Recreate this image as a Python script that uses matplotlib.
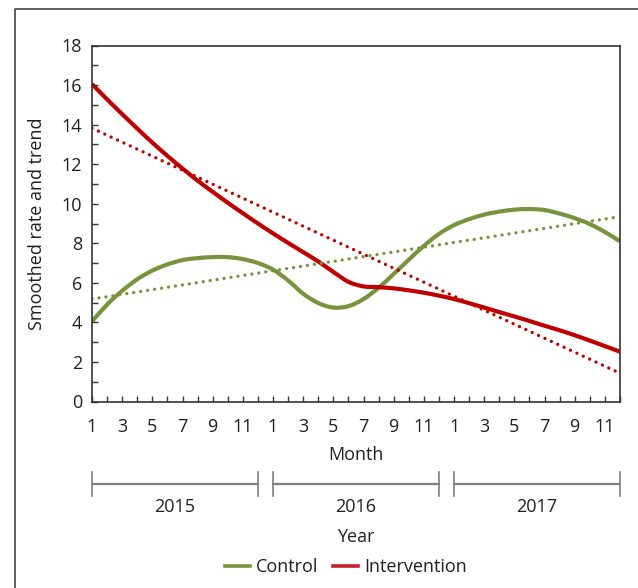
import matplotlib
matplotlib.use("Agg")
import matplotlib.pyplot as plt
from matplotlib.lines import Line2D
from matplotlib.path import Path
from matplotlib.patches import PathPatch
from matplotlib.transforms import blended_transform_factory

# ---------------- data ----------------
years = ["2015", "2016", "2017"]
months = list(range(1, 13)) * 3
control = [4.05, 4.9, 5.6, 6.18, 6.62, 6.93, 7.15, 7.25, 7.3, 7.3, 7.2, 7.0,
           6.67, 6.12, 5.45, 4.98, 4.75, 4.82, 5.18, 5.75, 6.45, 7.17, 7.87, 8.47,
           8.92, 9.22, 9.45, 9.6, 9.7, 9.73, 9.68, 9.5, 9.27, 8.97, 8.57, 8.1]
intervention = [16.05, 15.28, 14.53, 13.8, 13.09, 12.42, 11.78, 11.17, 10.6, 10.05, 9.52, 9.0,
                8.5, 8.02, 7.55, 7.08, 6.55, 6.05, 5.82, 5.78, 5.72, 5.62, 5.5, 5.35,
                5.18, 4.97, 4.75, 4.52, 4.3, 4.07, 3.83, 3.6, 3.35, 3.08, 2.8, 2.52]
control_trend = [5.18, 9.35]        # linear trend at first and last month
intervention_trend = [13.82, 1.43]
y_ticks = [0, 2, 4, 6, 8, 10, 12, 14, 16, 18]
series_names = ["Control", "Intervention"]

GREEN = "#77933C"
RED = "#C00000"
TEXT = "#231F20"
FS = 13

plt.rcParams['font.family'] = ['Open Sans', 'DejaVu Sans']

W, H = 638, 588
fig = plt.figure(figsize=(W / 100, H / 100), dpi=100)
ax = fig.add_axes([92 / W, 1 - 401.5 / H, (620 - 92) / W, (401.5 - 45.5) / H])

x = list(range(len(months)))
xe = [x[0], x[-1]]


def smooth_path(xs, ys):
    """Smoothed line (as in spreadsheet charts) drawn as cubic Bezier segments
    through the data points."""
    n = len(xs)
    verts = [(xs[0], ys[0])]
    codes = [Path.MOVETO]
    for i in range(n - 1):
        i0 = max(i - 1, 0)
        i3 = min(i + 2, n - 1)
        c1 = (xs[i] + (xs[i + 1] - xs[i0]) / 6.0, ys[i] + (ys[i + 1] - ys[i0]) / 6.0)
        c2 = (xs[i + 1] - (xs[i3] - xs[i]) / 6.0, ys[i + 1] - (ys[i3] - ys[i]) / 6.0)
        verts += [c1, c2, (xs[i + 1], ys[i + 1])]
        codes += [Path.CURVE4] * 3
    return Path(verts, codes)


dot = (0, (0.01, 2.1))
ax.plot(xe, control_trend, color=GREEN, lw=2.4, linestyle=dot, dash_capstyle='round')
ax.plot(xe, intervention_trend, color=RED, lw=2.4, linestyle=dot, dash_capstyle='round')
for ys, col in ((control, GREEN), (intervention, RED)):
    ax.add_patch(PathPatch(smooth_path(x, ys), fill=False, edgecolor=col, lw=3.0,
                           capstyle='butt', joinstyle='round'))

ax.set_xlim(x[0], x[-1])
ax.set_ylim(0, 18)

# y ticks
ax.set_yticks(y_ticks)
ax.set_yticklabels([str(v) for v in y_ticks])
ax.set_yticks(list(range(1, 18, 2)), minor=True)
ax.tick_params(axis='y', which='both', direction='in', length=4, width=1, color='#333333')
ax.tick_params(axis='y', which='major', pad=7, labelsize=FS, labelcolor=TEXT)

# x ticks
ax.set_xticks(x)
ax.set_xticklabels([str(m) if m % 2 == 1 else "" for m in months])
ax.tick_params(axis='x', which='major', direction='in', length=4, width=1, color='#333333',
               pad=12, labelsize=FS, labelcolor=TEXT)

for s in ax.spines.values():
    s.set_color('#333333')
    s.set_linewidth(1.2)

ax.set_ylabel("Smoothed rate and trend", fontsize=FS, color=TEXT, labelpad=11)

# Month label
fig.text(0.5 * (92 + 620) / W, 1 - 455 / H, "Month", ha='center', va='center',
         fontsize=FS, color=TEXT)

# Year brackets
tr = blended_transform_factory(ax.transData, fig.transFigure)
yb = 1 - 484 / H
yt0, yt1 = 1 - 472 / H, 1 - 496 / H
for i, yr in enumerate(years):
    a, b = x[i * 12], x[i * 12 + 11]
    ax.plot([a, b], [yb, yb], color='#808080', lw=1.6, transform=tr, clip_on=False)
    ax.plot([a, a], [yt0, yt1], color='#808080', lw=1.2, transform=tr, clip_on=False)
    ax.plot([b, b], [yt0, yt1], color='#808080', lw=1.2, transform=tr, clip_on=False)
    ax.text((a + b) / 2, 1 - 507 / H, yr, transform=tr, ha='center', va='center',
            fontsize=FS, color=TEXT)

fig.text(0.5 * (92 + 620) / W, 1 - 537 / H, "Year", ha='center', va='center',
         fontsize=FS, color=TEXT)

# Legend
handles = [Line2D([], [], color=GREEN, lw=2.6), Line2D([], [], color="#C8202A", lw=2.6)]
leg = fig.legend(handles, series_names, loc='center', bbox_to_anchor=(346 / W, 1 - 567 / H),
                 ncol=2, frameon=False, fontsize=FS, handlelength=1.4, handletextpad=0.35,
                 columnspacing=0.8, borderpad=0)
for t in leg.get_texts():
    t.set_color(TEXT)

# Outer frame
fig.add_artist(Line2D([14.5 / W, 14.5 / W, 1.0], [0.0, 1 - 8.5 / H, 1 - 8.5 / H],
                      transform=fig.transFigure, color='#333333', lw=1.1))

fig.savefig("out.png", dpi=100)
